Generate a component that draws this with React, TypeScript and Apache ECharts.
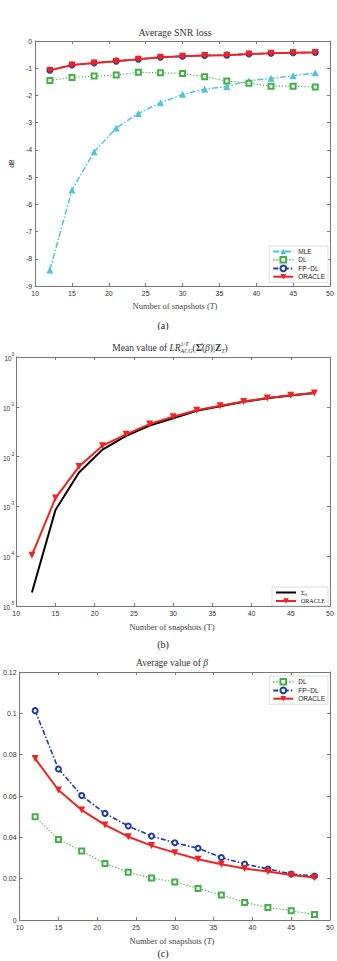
import React, { useEffect, useRef } from "react";
import * as echarts from "echarts";

// ---------- data ----------
const snapshots = [12, 15, 18, 21, 24, 27, 30, 33, 36, 39, 42, 45, 48];

// (a) Average SNR loss (dB)
const snrMLE = [-8.41, -5.47, -4.07, -3.2, -2.66, -2.27, -1.96, -1.77, -1.67, -1.46, -1.37, -1.28, -1.17];
const snrDL = [-1.45, -1.34, -1.29, -1.25, -1.15, -1.17, -1.19, -1.31, -1.47, -1.55, -1.66, -1.66, -1.69];
const snrFPDL = [-1.07, -0.88, -0.81, -0.74, -0.67, -0.6, -0.56, -0.53, -0.52, -0.48, -0.45, -0.43, -0.42];
const snrORACLE = [-1.08, -0.88, -0.81, -0.74, -0.67, -0.6, -0.56, -0.53, -0.52, -0.48, -0.45, -0.43, -0.42];

// (b) Mean value of LR (log scale)
const lrSigma0 = [1.86e-5, 8.5e-4, 4.8e-3, 0.0138, 0.026, 0.042, 0.059, 0.083, 0.103, 0.126, 0.148, 0.168, 0.19];
const lrORACLE = [1.05e-4, 1.47e-3, 6.3e-3, 0.0166, 0.028, 0.045, 0.063, 0.085, 0.105, 0.128, 0.15, 0.17, 0.19];

// (c) Average value of beta
const betaDL = [0.05, 0.039, 0.0334, 0.0273, 0.0231, 0.0203, 0.0184, 0.0153, 0.0121, 0.0085, 0.0061, 0.0045, 0.0027];
const betaFPDL = [0.1013, 0.0731, 0.0602, 0.0516, 0.0455, 0.0406, 0.0374, 0.0347, 0.0302, 0.0271, 0.0247, 0.0223, 0.0213];
const betaORACLE = [0.0781, 0.0629, 0.0532, 0.046, 0.0403, 0.036, 0.0326, 0.0294, 0.027, 0.0249, 0.0235, 0.0218, 0.0206];

const xMin = 10;
const xMax = 50;
const xStep = 5;

// ---------- styles ----------
const SERIF = "Liberation Serif";
const SANS = "Liberation Sans";
const AXIS = "#777";
const LABEL = "#333";
const C_MLE = "#4fc4d4";
const C_DL = "#44b04a";
const C_FP = "#1f3c9c";
const C_OR = "#f02222";

const pair = (ys: number[]) => snapshots.map((x, i) => [x, ys[i]]);

const xAxes = () => [
  {
    type: "value",
    min: xMin,
    max: xMax,
    interval: xStep,
    axisLine: { show: true, onZero: false, lineStyle: { color: AXIS, width: 1 } },
    axisTick: { inside: true, length: 3, lineStyle: { color: AXIS } },
    axisLabel: { fontSize: 7, color: LABEL, margin: 4, fontFamily: SANS },
    splitLine: { show: false },
  },
  {
    type: "value",
    position: "top",
    min: xMin,
    max: xMax,
    interval: xStep,
    axisLine: { show: true, onZero: false, lineStyle: { color: AXIS, width: 1 } },
    axisTick: { inside: true, length: 3, lineStyle: { color: AXIS } },
    axisLabel: { show: false },
    splitLine: { show: false },
  },
];

const yRight = (extra: any) => ({
  position: "right",
  axisLine: { show: true, onZero: false, lineStyle: { color: AXIS, width: 1 } },
  axisTick: { inside: true, length: 3, lineStyle: { color: AXIS } },
  axisLabel: { show: false },
  splitLine: { show: false },
  ...extra,
});

const yLeftBase = {
  axisLine: { show: true, onZero: false, lineStyle: { color: AXIS, width: 1 } },
  axisTick: { inside: true, length: 3, lineStyle: { color: AXIS } },
  splitLine: { show: false },
};

const sMLE = (d: number[]) => ({
  type: "line", name: "MLE", data: pair(d), symbol: "triangle", symbolSize: 7,
  itemStyle: { color: C_MLE }, lineStyle: { color: C_MLE, width: 1.5, type: [6, 2, 1.5, 2] }, z: 2,
});
const sDL = (d: number[]) => ({
  type: "line", name: "DL", data: pair(d), symbol: "emptyRect", symbolSize: 5,
  itemStyle: { color: C_DL, borderWidth: 1.4 }, lineStyle: { color: C_DL, width: 1.2, type: [1.2, 2] }, z: 3,
});
const sFP = (d: number[]) => ({
  type: "line", name: "FP-DL", data: pair(d), symbol: "emptyCircle", symbolSize: 5,
  itemStyle: { color: C_FP, borderWidth: 1.5 }, lineStyle: { color: C_FP, width: 1.6, type: [5, 2, 1.5, 2] }, z: 4,
});
const sOR = (d: number[]) => ({
  type: "line", name: "ORACLE", data: pair(d), symbol: "triangle", symbolRotate: 180, symbolSize: 7,
  itemStyle: { color: C_OR }, lineStyle: { color: C_OR, width: 2 }, z: 5,
});

// ---------- text helpers ----------
type Piece = { t: string; fs: number; it?: boolean; bd?: boolean; dy?: number; fam?: string; stack?: Piece };

function row(pieces: Piece[], cx: number, cy: number, color = "#333") {
  const cv = document.createElement("canvas").getContext("2d") as CanvasRenderingContext2D;
  const font = (p: Piece) => `${p.it ? "italic " : ""}${p.bd ? "bold " : ""}${p.fs}px "${p.fam || SERIF}"`;
  const widths = pieces.map((p) => {
    cv.font = font(p);
    let w = cv.measureText(p.t).width;
    if (p.stack) {
      cv.font = font(p.stack);
      w = Math.max(w, cv.measureText(p.stack.t).width);
    }
    return w;
  });
  const total = widths.reduce((a, b) => a + b, 0);
  let x = cx - total / 2;
  const el = (p: Piece, xx: number) => ({
    type: "text",
    x: xx,
    y: cy + (p.dy || 0),
    silent: true,
    style: {
      text: p.t,
      fontSize: p.fs,
      fontStyle: p.it ? "italic" : "normal",
      fontWeight: p.bd ? "bold" : "normal",
      fontFamily: p.fam || SERIF,
      fill: color,
      textAlign: "left",
      textVerticalAlign: "middle",
    },
  });
  const out: any[] = [];
  pieces.forEach((p, i) => {
    out.push(el(p, x));
    if (p.stack) out.push(el(p.stack, x));
    x += widths[i];
  });
  return out;
}

const legendBase = {
  orient: "vertical",
  itemWidth: 20,
  itemHeight: 7,
  itemGap: 1,
  padding: [2, 3, 2, 3],
  borderColor: "#c8c8c8",
  borderWidth: 0.6,
  backgroundColor: "#fff",
};

// ---------- component ----------
export default function App() {
  const refA = useRef<HTMLDivElement>(null);
  const refB = useRef<HTMLDivElement>(null);
  const refC = useRef<HTMLDivElement>(null);

  useEffect(() => {
    document.body.style.margin = "0";
    const cA = echarts.init(refA.current!, null, { renderer: "svg" });
    const cB = echarts.init(refB.current!, null, { renderer: "svg" });
    const cC = echarts.init(refC.current!, null, { renderer: "svg" });

    // ---- (a)
    cA.setOption({
      animation: false,
      grid: { left: 20, right: 7, top: 41, height: 245 },
      xAxis: xAxes(),
      yAxis: [
        {
          type: "value", min: -9, max: 0, interval: 1, ...yLeftBase,
          axisLabel: { fontSize: 7, color: LABEL, margin: 3, fontFamily: SANS },
          name: "dB", nameLocation: "middle", nameGap: 13,
          nameTextStyle: { fontSize: 7, color: LABEL, fontFamily: SANS },
        },
        yRight({ type: "value", min: -9, max: 0, interval: 1 }),
      ],
      legend: {
        ...legendBase,
        right: 9,
        top: 246,
        data: ["MLE", "DL", "FP-DL", "ORACLE"],
        formatter: (n: string) => (n === "FP-DL" ? "FP\u2212DL" : n),
        textStyle: { fontSize: 6.5, color: "#222", fontFamily: SANS },
      },
      series: [sMLE(snrMLE), sDL(snrDL), sFP(snrFPDL), sOR(snrORACLE)],
      graphic: [
        ...row([{ t: "Average SNR loss", fs: 10 }], 175, 32),
        ...row([{ t: "Number of snapshots (", fs: 8.5 }, { t: "T", fs: 8.5, it: true }, { t: ")", fs: 8.5 }], 175, 306, "#444"),
        ...row([{ t: "(a)", fs: 10 }], 163, 325, "#222"),
      ],
    });

    // ---- (b)
    const logFmt = (v: number) => {
      const e = Math.round(Math.log10(v));
      return `{b|10}{s|${e}}`;
    };
    cB.setOption({
      animation: false,
      grid: { left: 15, right: 7, top: 27, height: 249 },
      xAxis: xAxes(),
      yAxis: [
        {
          type: "log", logBase: 10, min: 1e-5, max: 1, ...yLeftBase,
          axisLabel: {
            margin: 2,
            formatter: logFmt,
            rich: {
              b: { fontSize: 6.5, color: LABEL, fontFamily: SANS, verticalAlign: "bottom", lineHeight: 10 },
              s: { fontSize: 4.5, color: LABEL, fontFamily: SANS, verticalAlign: "top", lineHeight: 10 },
            },
          },
        },
        yRight({ type: "log", logBase: 10, min: 1e-5, max: 1 }),
      ],
      legend: {
        ...legendBase,
        right: 9,
        top: 257,
        data: [
          { name: "Σ0", icon: "path://M0 0H20V2H0Z" },
          { name: "ORACLE" },
        ],
        formatter: (n: string) => (n === "Σ0" ? "{a|Σ}{s|0}" : "{o|ORACLE}"),
        textStyle: {
          rich: {
            a: { fontSize: 6.5, fontFamily: SERIF, color: "#222" },
            s: { fontSize: 4.5, fontFamily: SERIF, color: "#222", verticalAlign: "bottom", lineHeight: 9 },
            o: { fontSize: 6, fontFamily: SERIF, color: "#222" },
          },
        },
      },
      series: [
        {
          type: "line", name: "Σ0", data: pair(lrSigma0), symbol: "none",
          itemStyle: { color: "#000" }, lineStyle: { color: "#000", width: 2 }, z: 3,
        },
        sOR(lrORACLE),
      ],
      graphic: [
        ...row(
          [
            { t: "Mean value of ", fs: 9.5 },
            { t: "LR", fs: 9.5, it: true },
            { t: "1/T", fs: 6, it: true, dy: -4, stack: { t: "ACG", fs: 6, it: true, dy: 3 } },
            { t: "(", fs: 9.5 },
            { t: "Σ\u0302", fs: 9.5, bd: true },
            { t: "(", fs: 9.5 },
            { t: "β", fs: 9.5, it: true },
            { t: ")|", fs: 9.5 },
            { t: "Z", fs: 9.5, bd: true },
            { t: "T", fs: 6, it: true, dy: 3 },
            { t: ")", fs: 9.5 },
          ],
          170,
          18
        ),
        ...row([{ t: "Number of snapshots (T)", fs: 8.5 }], 172, 297, "#444"),
        ...row([{ t: "(b)", fs: 10 }], 163, 314, "#222"),
      ],
    });

    // ---- (c)
    cC.setOption({
      animation: false,
      grid: { left: 15, right: 7, top: 22, height: 248 },
      xAxis: xAxes(),
      yAxis: [
        {
          type: "value", min: 0, max: 0.12, interval: 0.02, ...yLeftBase,
          axisLabel: {
            fontSize: 7, color: LABEL, margin: 3, fontFamily: SANS,
            formatter: (v: number) => String(+v.toFixed(2)),
          },
        },
        yRight({ type: "value", min: 0, max: 0.12, interval: 0.02 }),
      ],
      legend: {
        ...legendBase,
        right: 9,
        top: 26,
        data: ["DL", "FP-DL", "ORACLE"],
        formatter: (n: string) => (n === "FP-DL" ? "FP\u2212DL" : n),
        textStyle: { fontSize: 6.5, color: "#222", fontFamily: SANS },
      },
      series: [sDL(betaDL), sFP(betaFPDL), sOR(betaORACLE)],
      graphic: [
        ...row([{ t: "Average value of ", fs: 9.5 }, { t: "β", fs: 9.5, it: true }], 172, 13),
        ...row([{ t: "Number of snapshots (", fs: 8.5 }, { t: "T", fs: 8.5, it: true }, { t: ")", fs: 8.5 }], 172, 291, "#444"),
        ...row([{ t: "(c)", fs: 10 }], 163, 303, "#222"),
      ],
    });

    return () => {
      cA.dispose();
      cB.dispose();
      cC.dispose();
    };
  }, []);

  return (
    <div style={{ position: "relative", width: 337, height: 961, background: "#fff", overflow: "hidden" }}>
      <div ref={refA} style={{ position: "absolute", left: 0, top: 0, width: 337, height: 330 }} />
      <div ref={refB} style={{ position: "absolute", left: 0, top: 330, width: 337, height: 320 }} />
      <div ref={refC} style={{ position: "absolute", left: 0, top: 650, width: 337, height: 311 }} />
    </div>
  );
}
